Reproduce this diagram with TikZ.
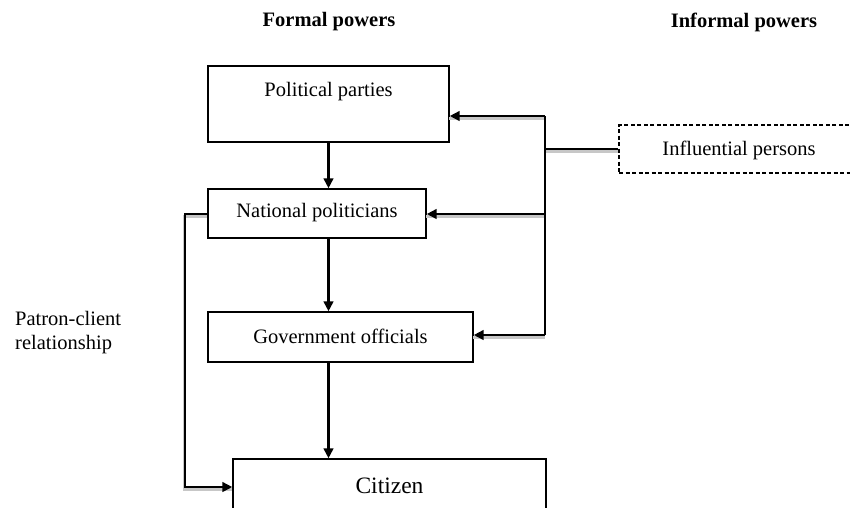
\documentclass[tikz,border=0pt]{standalone}
\usepackage{fontspec}
\setmainfont{Liberation Serif}
\usetikzlibrary{arrows.meta}

\tikzset{
  box/.style={draw, line width=1.3pt, rectangle, inner sep=0pt},
  dbox/.style={draw, line width=1.3pt, dashed, dash pattern=on 4pt off 2.5pt, rectangle, inner sep=0pt},
  txt/.style={font=\fontsize{20.5}{24.5}\selectfont, inner sep=0pt},
  head/.style={font=\fontsize{20.5}{24.5}\selectfont\bfseries, inner sep=0pt},
  link/.style={line width=2.5pt},
  arr/.style={line width=2.5pt, -{Triangle[length=10pt,width=9.5pt]}},
  shade/.style={line width=2.8pt, black!22, transform canvas={xshift=-0.5pt, yshift=-2.4pt}},
}

\begin{document}
\begin{tikzpicture}[x=1pt, y=-1pt]
  \useasboundingbox (0,0) rectangle (850,507);
  \clip (0,0) rectangle (850,507);

  % headings
  \node[head] (hf) at (329,22) {Formal powers};
  \node[head] (hi) at (744,22) {Informal powers};

  % boxes of the formal chain
  \node[box, minimum width=241pt, minimum height=76pt] (pp) at (328.5,104) {};
  \node[txt] (ppt) at (328.5,92) {Political parties};
  \node[box, minimum width=218pt, minimum height=49pt] (np) at (317,213.5) {};
  \node[txt] (npt) at (317,213) {National politicians};
  \node[box, minimum width=265pt, minimum height=50pt] (go) at (340.5,337) {};
  \node[txt] (got) at (340.5,336) {Government officials};
  \node[box, minimum width=313pt, minimum height=56pt] (ci) at (389.5,487) {};
  \node[txt, font=\fontsize{23.5}{27}\selectfont] (cit) at (389.5,486) {Citizen};

  % informal side
  \node[dbox, minimum width=260pt, minimum height=48pt] (ip) at (749,149) {};
  \node[txt] (ipt) at (739,150) {Influential persons};

  % side label
  \node[txt, align=left, anchor=north west] (pc) at (15,311) {Patron-client\\relationship};

  % junction points of the right-hand bus
  \coordinate (bt) at (545,116);
  \coordinate (bm) at (545,149);
  \coordinate (bn) at (545,214);
  \coordinate (bb) at (545,335);
  \coordinate (pl) at (185,214);

  % shadows under the connectors
  \draw[shade] (ip.west) -- (bm);
  \draw[shade] (bt) -- (bt -| pp.east);
  \draw[shade] (bn) -- (bn -| np.east);
  \draw[shade] (bb) -- (bb -| go.east);
  \draw[shade] (pl -| np.west) -- (pl) |- (ci.west);

  % connectors
  \draw[link] (ip.west) -- (bm);
  \draw[link] (bt) -- (bb);
  \draw[arr] (bt) -- (bt -| pp.east);
  \draw[arr] (bn) -- (bn -| np.east);
  \draw[arr] (bb) -- (bb -| go.east);
  \draw[arr] (pp.south) -- (pp.south |- np.north);
  \draw[arr] (pp.south |- np.south) -- (pp.south |- go.north);
  \draw[arr] (pp.south |- go.south) -- (pp.south |- ci.north);
  \draw[arr] (pl -| np.west) -- (pl) |- (ci.west);
\end{tikzpicture}
\end{document}
